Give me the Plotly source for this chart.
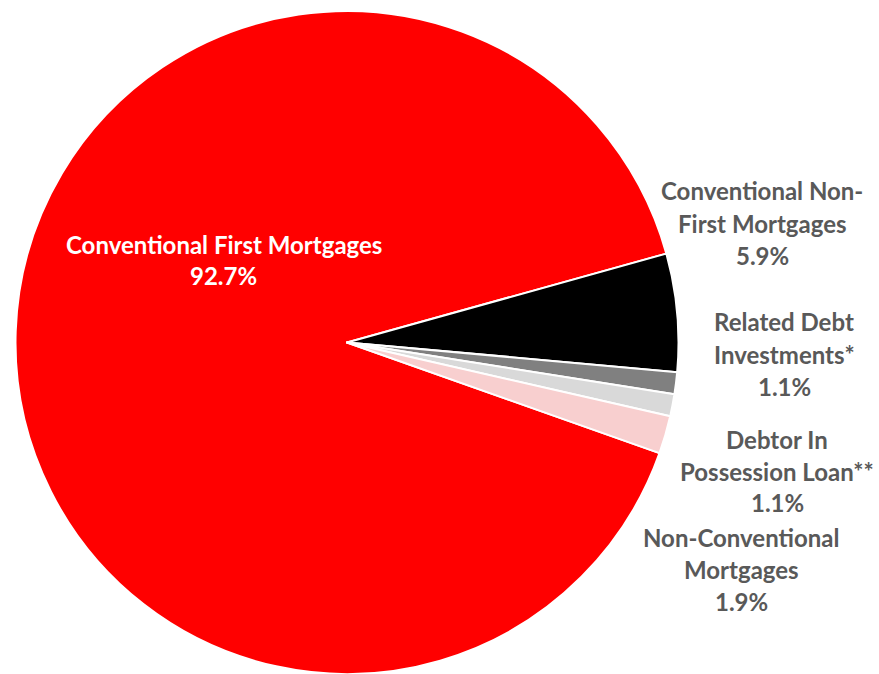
import plotly.graph_objects as go

# Data
categories = [
    "Conventional First Mortgages",
    "Conventional Non-First Mortgages",
    "Related Debt Investments*",
    "Debtor In Possession Loan**",
    "Non-Conventional Mortgages",
]
values = [92.7, 5.9, 1.1, 1.1, 1.9]
pct_labels = ["92.7%", "5.9%", "1.1%", "1.1%", "1.9%"]
label_lines = [
    ["Conventional First Mortgages"],
    ["Conventional Non-", "First Mortgages"],
    ["Related Debt", "Investments*"],
    ["Debtor In", "Possession Loan**"],
    ["Non-Conventional", "Mortgages"],
]
colors = ["#FF0000", "#000000", "#808080", "#D9D9D9", "#F8CFCF"]

W, H = 879, 674

fig = go.Figure(go.Pie(
    labels=categories,
    values=values,
    sort=False,
    direction="clockwise",
    rotation=109.5,
    marker=dict(colors=colors, line=dict(color="white", width=2)),
    textinfo="none",
    hoverinfo="label+percent",
    showlegend=False,
    domain=dict(x=[14 / W, 680 / W], y=[0, 663 / H]),
))

# label layout: (center x px, first line y px, line spacing px, color)
label_pos = [
    (224, 245, 31, "white"),
    (762, 191, 32, "#595959"),
    (784, 322, 32, "#595959"),
    (777, 439, 32, "#595959"),
    (741, 537, 32, "#595959"),
]

annotations = []
for lines, pct, (cx, cy, dy, col) in zip(label_lines, pct_labels, label_pos):
    for i, t in enumerate(lines + [pct]):
        annotations.append(dict(
            x=cx / W, y=1 - (cy + i * dy) / H, xref="paper", yref="paper",
            text="<b>" + t + "</b>", showarrow=False,
            xanchor="center", yanchor="middle",
            font=dict(family="Lato", size=24, color=col),
        ))

fig.update_layout(
    width=W, height=H,
    margin=dict(l=0, r=0, t=0, b=0),
    paper_bgcolor="white",
    plot_bgcolor="white",
    annotations=annotations,
)

fig.write_html("out.html", config={"displayModeBar": False},
               post_script="document.body.style.margin='0';")
